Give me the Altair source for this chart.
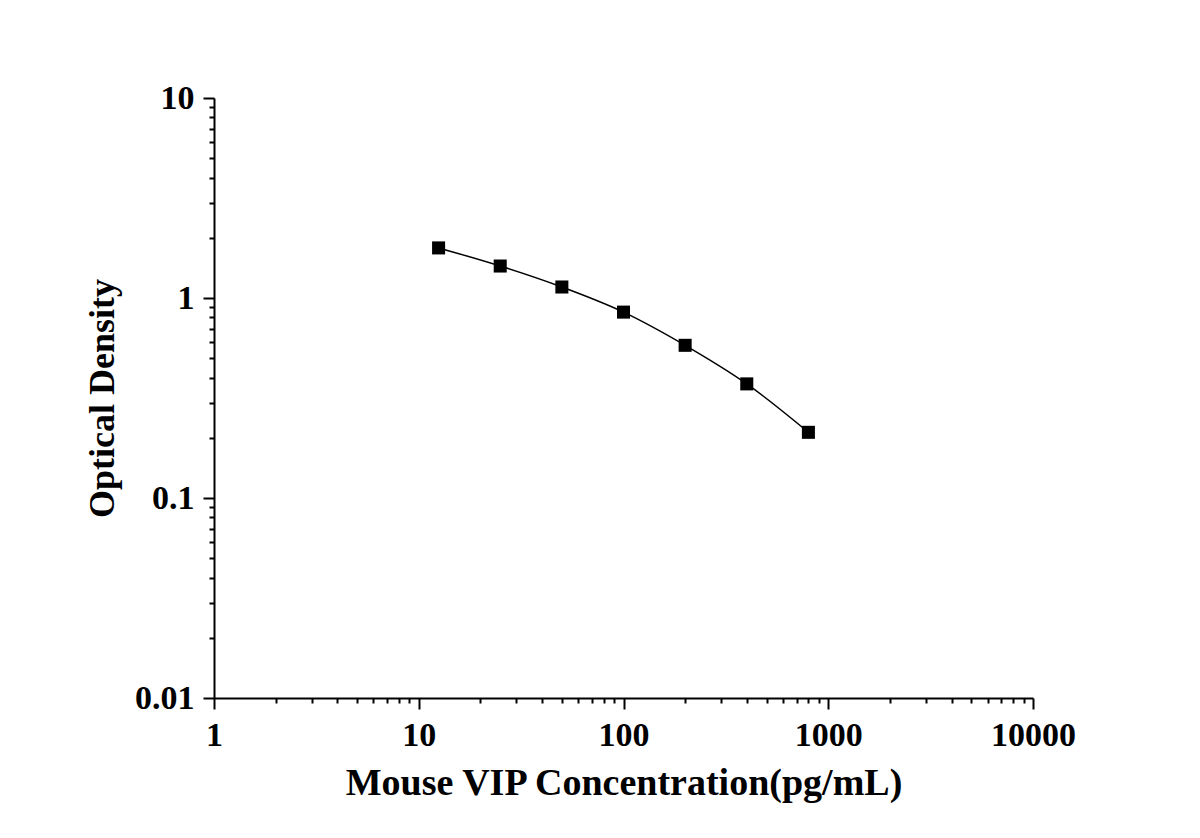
import altair as alt
import pandas as pd

conc = [12.5, 25, 50, 100, 200, 400, 800]
od = [1.78, 1.445, 1.135, 0.85, 0.58, 0.372, 0.213]

x_major = [1, 10, 100, 1000, 10000]
y_major = [0.01, 0.1, 1, 10]
x_minor = [m * d for d in [1, 10, 100, 1000] for m in range(2, 10)]
y_minor = [m * d for d in [0.01, 0.1, 1] for m in range(2, 10)]

df = pd.DataFrame({"conc": conc, "od": od})

FONT = "Liberation Serif"

xscale = alt.Scale(type="log", domain=[1, 10000], nice=False)
yscale = alt.Scale(type="log", domain=[0.01, 10], nice=False)

base = alt.Chart(df)

line = base.mark_line(color="black", strokeWidth=1.5, interpolate="monotone").encode(
    x=alt.X("conc:Q", scale=xscale,
            axis=alt.Axis(orient="bottom", values=x_major, format="~g", grid=False,
                          domainColor="black", domainWidth=2, tickColor="black",
                          tickWidth=2, tickSize=11, labelPadding=9,
                          labelFont=FONT, labelFontWeight="bold", labelFontSize=34,
                          labelColor="black", labelFlush=False, labelOverlap=False,
                          title="Mouse VIP Concentration(pg/mL)", titleFont=FONT,
                          titleFontWeight="bold", titleFontSize=38, titleColor="black",
                          titleBaseline="alphabetic", titleY=96)),
    y=alt.Y("od:Q", scale=yscale,
            axis=alt.Axis(orient="left", values=y_major, format="~g", grid=False,
                          domainColor="black", domainWidth=2, tickColor="black",
                          tickWidth=2, tickSize=11, labelPadding=9,
                          labelFont=FONT, labelFontWeight="bold", labelFontSize=34,
                          labelColor="black", labelFlush=False, labelOverlap=False,
                          title="Optical Density", titleFont=FONT,
                          titleFontWeight="bold", titleFontSize=36, titleColor="black",
                          titleBaseline="middle", titleX=-112, titleY=300,
                          titleAngle=270)),
)

pts = base.mark_square(color="black", size=170, opacity=1).encode(
    x=alt.X("conc:Q", scale=xscale,
            axis=alt.Axis(orient="bottom", values=x_minor, labels=False, grid=False,
                          domain=False, tickColor="black", tickWidth=2, tickSize=5,
                          title=None)),
    y=alt.Y("od:Q", scale=yscale,
            axis=alt.Axis(orient="left", values=y_minor, labels=False, grid=False,
                          domain=False, tickColor="black", tickWidth=2, tickSize=5,
                          title=None)),
)

chart = alt.layer(line, pts).resolve_axis(x="independent", y="independent").properties(
    width=819,
    height=600,
    background="white",
    autosize=alt.AutoSizeParams(type="none"),
    padding={"left": 206, "top": 90, "right": 159, "bottom": 120},
).configure_view(stroke="transparent", strokeWidth=0)

chart.save("out.html", embed_options={"renderer": "svg", "actions": False})
